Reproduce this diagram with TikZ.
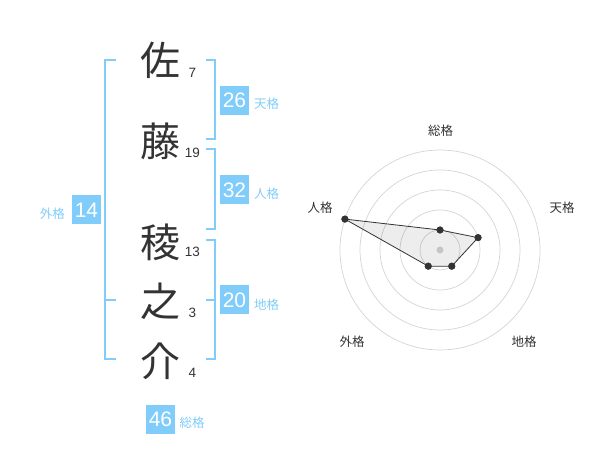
\documentclass[tikz,border=0pt]{standalone}
\usepackage{fontspec}
\setmainfont{Liberation Sans}
\newfontfamily\jpfont{Noto Sans CJK JP}
\definecolor{kakuBlue}{RGB}{128,204,250}
\definecolor{kanjiGray}{RGB}{51,51,51}
\definecolor{ringGray}{RGB}{212,212,212}
\usetikzlibrary{calc,positioning}

\begin{document}
\begin{tikzpicture}[x=1pt,y=-1pt,
          kanji/.style={
            font=\jpfont\fontsize{40}{40}\selectfont,
            text=kanjiGray,
            inner sep=0pt},
          stroke/.style={
            font=\fontsize{13.5}{14}\selectfont,
            text=kanjiGray,
            inner sep=0pt},
          kakuBox/.style={
            fill=kakuBlue,
            text=white,
            minimum size=29pt,
            inner sep=0pt,
            font=\fontsize{21}{21}\selectfont},
          kakuName/.style={
            font=\jpfont\fontsize{12.5}{13}\selectfont,
            text=kakuBlue,
            inner sep=0pt},
          bracket/.style={draw=kakuBlue, line width=2pt},
          axisName/.style={
            font=\jpfont\fontsize{12.5}{13}\selectfont,
            text=kanjiGray,
            inner sep=0pt},
          ring/.style={draw=ringGray, line width=0.7pt},
          dot/.style={circle, fill=kanjiGray, inner sep=0pt, minimum size=7pt} ]

          \useasboundingbox (0,0) rectangle (600,470);

          % name
          \node[kanji] (kanji1) at (160,60) {佐};
          \node[kanji] (kanji2) at (160,141) {藤};
          \node[kanji] (kanji3) at (160,242) {稜};
          \node[kanji] (kanji4) at (160,301) {之};
          \node[kanji] (kanji5) at (160,361) {介};

          \node[stroke] (stroke1) at (192.5,73) {7};
          \node[stroke] (stroke2) at (192.5,153) {19};
          \node[stroke] (stroke3) at (192.5,252) {13};
          \node[stroke] (stroke4) at (192.5,313) {3};
          \node[stroke] (stroke5) at (192.5,373) {4};

          % brackets
          \draw[bracket] (116,60) -- (105,60) -- (105,359) -- (116,359);
          \draw[bracket] (105,300) -- (116,300);
          \draw[bracket] (206,60) -- (215,60) -- (215,139) -- (206,139);
          \draw[bracket] (206,149) -- (215,149) -- (215,229) -- (206,229);
          \draw[bracket] (206,240) -- (215,240) -- (215,359) -- (206,359);
          \draw[bracket] (215,300) -- (206,300);

          % kaku
          \node[kakuBox] (boxTen) at (234.5,100.5) {26};
          \node[kakuName, anchor=west] (nameTen) at (254,104) {天格};
          \node[kakuBox] (boxJin) at (234.5,190) {32};
          \node[kakuName, anchor=west] (nameJin) at (254,194) {人格};
          \node[kakuBox] (boxChi) at (234.5,300) {20};
          \node[kakuName, anchor=west] (nameChi) at (254,304.5) {地格};
          \node[kakuBox] (boxGai) at (86.5,210) {14};
          \node[kakuName, anchor=east] (nameGai) at (65,213.5) {外格};
          \node[kakuBox] (boxSou) at (160.5,419) {46};
          \node[kakuName, anchor=west] (nameSou) at (179.5,422.5) {総格};

          % radar
          \begin{scope}[shift={(440,250)}, y=1pt]
            \foreach \r in {20,40,...,100}
              \draw[ring] (0,0) circle (\r);
            \fill[ringGray] (0,0) circle (3.5);

            \node[dot] (radarSou) at (90:20) {};
            \node[dot] (radarTen) at (18:40) {};
            \node[dot] (radarChi) at (-54:20) {};
            \node[dot] (radarGai) at (234:20) {};
            \node[dot] (radarJin) at (162:100) {};

            \fill[black, fill opacity=0.07] (radarSou.center) -- (radarTen.center) -- (radarChi.center)
              -- (radarGai.center) -- (radarJin.center) -- cycle;
            \draw[kanjiGray, line width=0.8pt] (radarSou.center) -- (radarTen.center) -- (radarChi.center)
              -- (radarGai.center) -- (radarJin.center) -- cycle;
            \foreach \n in {Sou,Ten,Chi,Gai,Jin}
              \node[dot] at (radar\n) {};
          \end{scope}

          \node[axisName] (axisSou) at (440.5,130.5) {総格};
          \node[axisName] (axisTen) at (562,208) {天格};
          \node[axisName] (axisJin) at (320,208) {人格};
          \node[axisName] (axisGai) at (352,342) {外格};
          \node[axisName] (axisChi) at (524,342) {地格};
        \end{tikzpicture}
\end{document}
